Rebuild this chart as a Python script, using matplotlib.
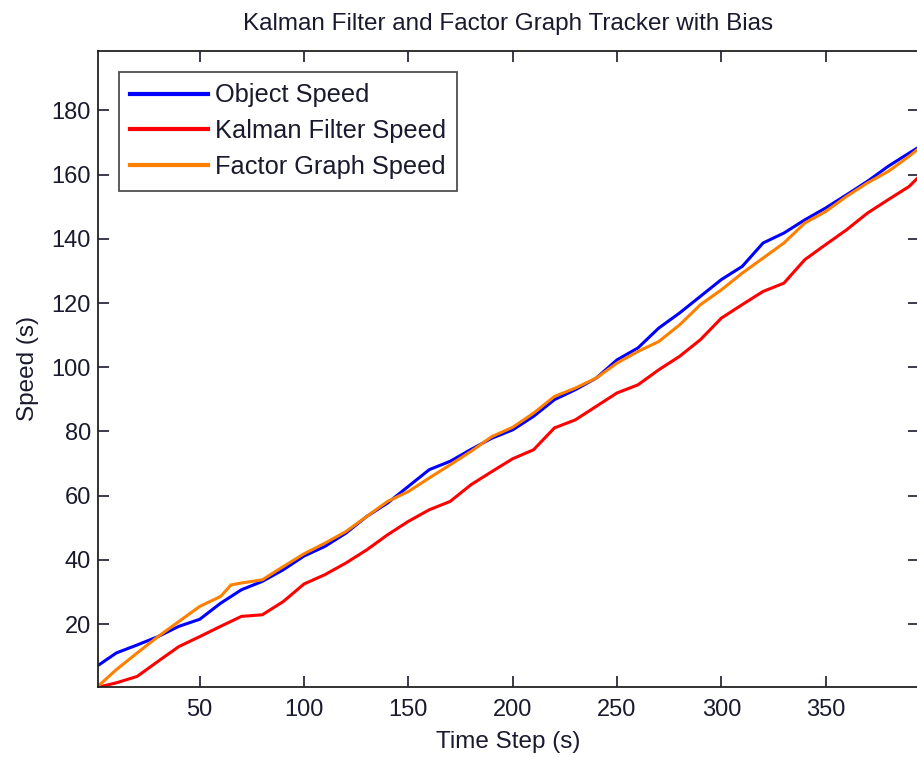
import matplotlib
matplotlib.use("Agg")
import matplotlib.pyplot as plt
import numpy as np

plt.rcParams['font.family'] = ['Liberation Sans', 'DejaVu Sans']

t_obj = [1, 10, 20, 30, 40, 50, 60, 70, 80, 90, 100, 110, 120, 130, 140, 150, 160, 170, 180, 190,
         200, 210, 220, 230, 240, 250, 260, 270, 280, 290, 300, 310, 320, 330, 340, 350, 360, 370,
         380, 390, 394]
object_speed = [7.0, 11.0, 13.5, 16.1, 19.3, 21.5, 26.5, 30.7, 33.3, 36.9, 41.2, 44.2, 48.3, 53.5,
                57.7, 62.9, 68.1, 70.7, 74.4, 77.9, 80.5, 84.7, 89.9, 93.0, 96.6, 102.3, 106.0,
                112.2, 116.9, 122.1, 127.3, 131.4, 138.7, 141.8, 145.9, 149.6, 153.7, 157.9,
                162.6, 166.7, 168.3]

t_kf = [1, 10, 20, 30, 40, 50, 60, 70, 80, 90, 100, 110, 120, 130, 140, 150, 160, 170, 180, 190,
        200, 210, 220, 230, 240, 250, 260, 270, 280, 290, 300, 310, 320, 330, 340, 350, 360, 370,
        380, 390, 394]
kalman_speed = [0.3, 1.7, 3.7, 8.4, 13.0, 16.1, 19.3, 22.4, 22.9, 27.0, 32.5, 35.4, 39.0, 43.1,
                47.8, 52.0, 55.6, 58.2, 63.4, 67.5, 71.5, 74.3, 81.1, 83.6, 87.8, 92.0, 94.5,
                99.2, 103.4, 108.6, 115.3, 119.5, 123.6, 126.2, 133.5, 138.2, 142.8, 148.0,
                152.2, 156.3, 158.9]

t_fg = [1, 10, 20, 30, 40, 50, 60, 65, 70, 80, 90, 100, 110, 120, 130, 140, 150, 160, 170, 180,
        190, 200, 210, 220, 230, 240, 250, 260, 270, 280, 290, 300, 310, 320, 330, 340, 350, 360,
        370, 380, 390, 394]
factor_speed = [0.5, 5.8, 11.0, 16.1, 20.8, 25.5, 28.6, 32.2, 32.8, 33.8, 37.9, 41.9, 45.2, 48.8,
                53.5, 58.2, 61.3, 65.5, 69.6, 73.8, 78.4, 81.3, 85.7, 90.9, 93.5, 96.6, 101.3,
                104.9, 108.0, 113.2, 119.5, 124.1, 129.3, 134.0, 138.7, 144.9, 148.5, 153.2,
                157.4, 161.0, 165.7, 167.8]

labels = ['Object Speed', 'Kalman Filter Speed', 'Factor Graph Speed']
colors = ['#0000ff', '#ff0000', '#ff8000']

W, H = 917, 757
fig = plt.figure(figsize=(W / 100, H / 100), dpi=100)
ax = fig.add_axes([97.5 / W, (H - 686.7) / H, (918.5 - 97.5) / W, (686.7 - 51) / H])

lw = 2.2
ax.plot(t_obj, object_speed, color=colors[0], lw=lw, label=labels[0])
ax.plot(t_kf, kalman_speed, color=colors[1], lw=lw, label=labels[1])
ax.plot(t_fg, factor_speed, color=colors[2], lw=lw, label=labels[2])

txt = '#1a1a2e'
fs = 17.5
ax.set_xlim(1, 394.5)
ax.set_ylim(0.5, 198.5)
ax.set_xticks([50, 100, 150, 200, 250, 300, 350])
ax.set_yticks([20, 40, 60, 80, 100, 120, 140, 160, 180])
ax.tick_params(direction='in', length=8, width=1.2, top=True, right=True,
               labelsize=17, colors=txt)
ax.tick_params(axis='x', pad=8.7)
ax.tick_params(axis='y', pad=4.7)
for s in ax.spines.values():
    s.set_linewidth(1.3)
    s.set_color('#222222')

ax.set_title('Kalman Filter and Factor Graph Tracker with Bias', fontsize=fs, pad=15, color=txt)
ax.set_xlabel('Time Step (s)', fontsize=fs, labelpad=7.6, color=txt)
ax.set_ylabel('Speed (s)', fontsize=fs, labelpad=9, color=txt)

leg = ax.legend(loc='upper left', bbox_to_anchor=(0.0262, 0.967), fontsize=18.3,
                frameon=True, fancybox=False, edgecolor='#222222', handlelength=3.07,
                handletextpad=0.24, labelspacing=0.47, borderpad=0.45, borderaxespad=0)
leg.get_frame().set_linewidth(1.3)
for h in leg.get_lines():
    h.set_linewidth(3)
for tx in leg.get_texts():
    tx.set_color(txt)

fig.savefig('out.png', dpi=100)
